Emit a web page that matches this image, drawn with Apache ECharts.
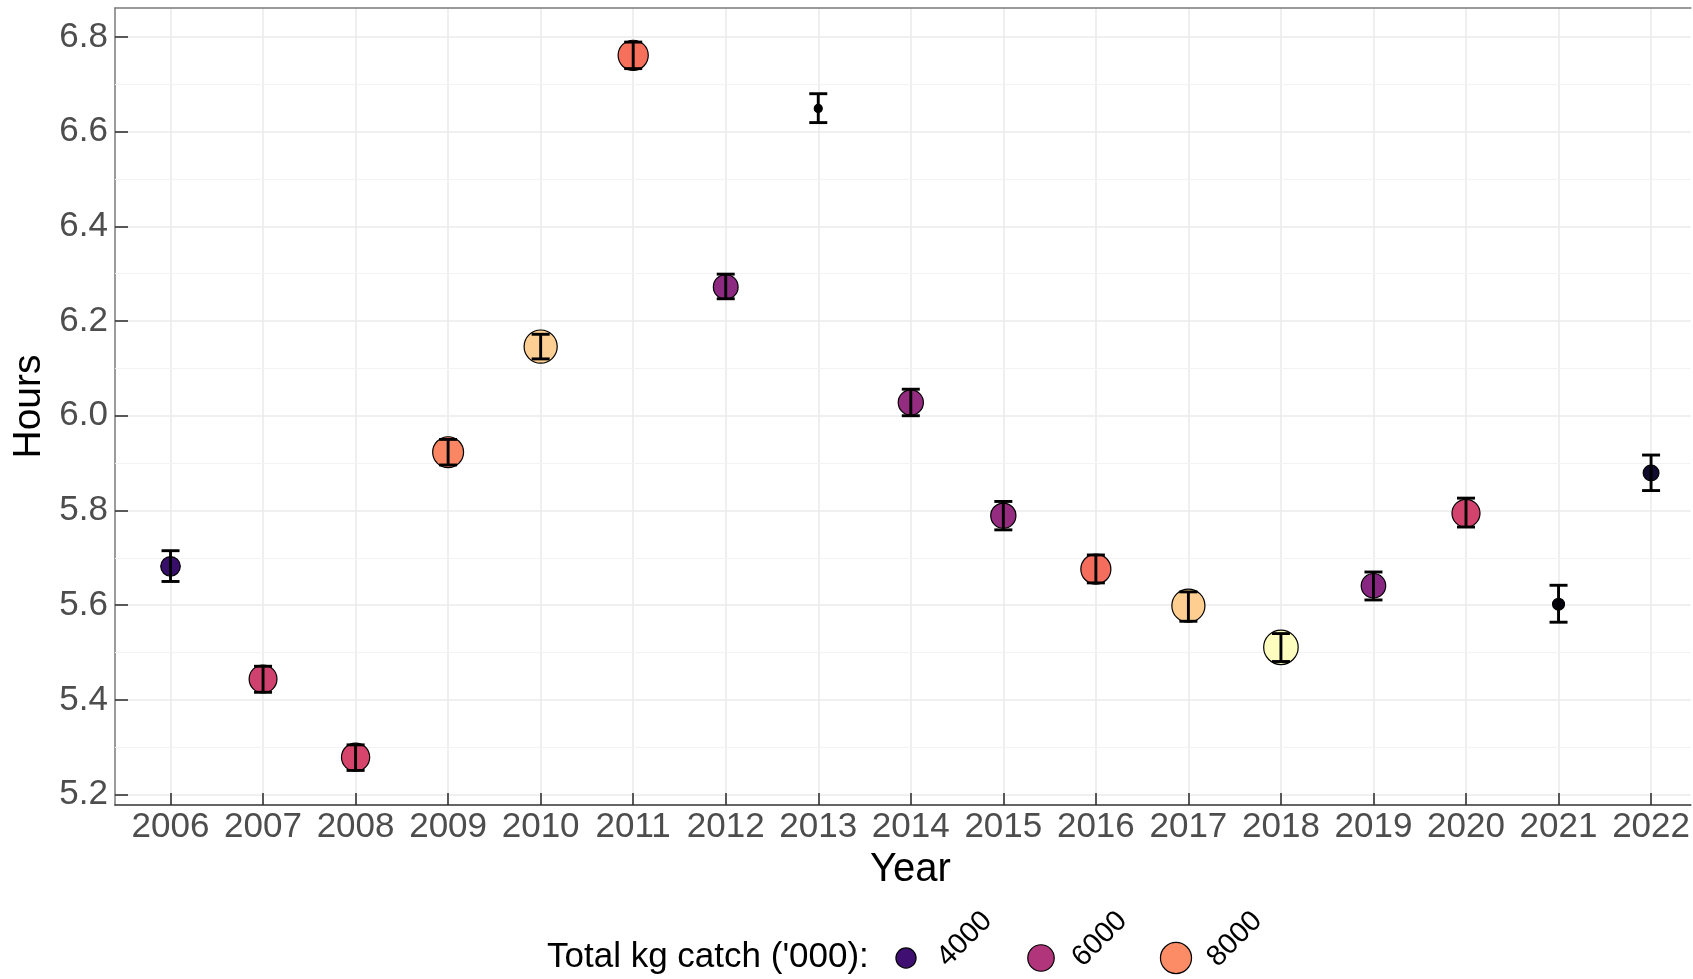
<!DOCTYPE html>
<html>
<head>
<meta charset="utf-8">
<script src="https://cdn.jsdelivr.net/npm/echarts@6/dist/echarts.min.js"></script>
<style>
  html, body { margin: 0; padding: 0; background: #ffffff; }
  #chart { width: 1693px; height: 979px; }
</style>
</head>
<body>
<div id="chart"></div>
<script>
// Mean fishing-trip hours per year, with error bars, coloured and sized by total catch
const years = [2006, 2007, 2008, 2009, 2010, 2011, 2012, 2013, 2014, 2015, 2016, 2017, 2018, 2019, 2020, 2021, 2022];
const meanHours  = [5.682, 5.444, 5.279, 5.923, 6.146, 6.761, 6.272, 6.649, 6.028, 5.789, 5.676, 5.599, 5.511, 5.641, 5.794, 5.602, 5.879];
const lowerHours = [5.650, 5.416, 5.251, 5.896, 6.120, 6.733, 6.247, 6.619, 6.000, 5.759, 5.647, 5.566, 5.481, 5.611, 5.765, 5.564, 5.842];
const upperHours = [5.715, 5.471, 5.305, 5.950, 6.172, 6.789, 6.299, 6.680, 6.056, 5.819, 5.706, 5.628, 5.540, 5.670, 5.826, 5.642, 5.917];
// Total kg catch ('000)
const catchKg = [3850, 6550, 6690, 7900, 9020, 7560, 5380, 2470, 5520, 5530, 7500, 9000, 9745, 5300, 6620, 2630, 3100];

const yTicks = [5.2, 5.4, 5.6, 5.8, 6.0, 6.2, 6.4, 6.6, 6.8];
const yMinorTicks = [5.3, 5.5, 5.7, 5.9, 6.1, 6.3, 6.5, 6.7];
const legendCatch = [4000, 6000, 8000];
const legendTitle = "Total kg catch ('000):";

const FONT = '"Liberation Sans", Arial, sans-serif';

// magma palette stops
const MAGMA = ['#000004', '#140e36', '#3b0f70', '#641a80', '#8c2981', '#b73779',
               '#de4968', '#f7705c', '#fe9f6d', '#fecf92', '#fcfdbf'];
const catchMin = Math.min.apply(null, catchKg);
const catchMax = Math.max.apply(null, catchKg);

function unitCatch(v) {
  return Math.max(0, Math.min(1, (v - catchMin) / (catchMax - catchMin)));
}
function hexToRgb(h) {
  return [parseInt(h.slice(1, 3), 16), parseInt(h.slice(3, 5), 16), parseInt(h.slice(5, 7), 16)];
}
function magma(t) {
  const p = t * (MAGMA.length - 1);
  const i = Math.min(MAGMA.length - 2, Math.floor(p));
  const f = p - i;
  const a = hexToRgb(MAGMA[i]), b = hexToRgb(MAGMA[i + 1]);
  const c = a.map((x, k) => Math.round(x + (b[k] - x) * f));
  return 'rgb(' + c.join(',') + ')';
}
function catchColor(v) { return magma(unitCatch(v)); }
// point area grows with catch
function catchDiameter(v) { return 8 + 26.5 * Math.sqrt(unitCatch(v)); }

const chart = echarts.init(document.getElementById('chart'), null, { renderer: 'canvas' });

const pointData = years.map((y, i) => [y, meanHours[i], catchKg[i]]);
const barData = years.map((y, i) => [y, lowerHours[i], upperHours[i]]);

// legend drawn as graphic elements, using the same colour and size mapping
const legendX = [906, 1041, 1176];
const legendY = 958;
const legendGraphics = [{
  type: 'text', left: 547, top: 940,
  style: { text: legendTitle, font: '35px ' + FONT, fill: '#000000' }
}];
legendCatch.forEach((v, i) => {
  legendGraphics.push({
    type: 'circle', x: legendX[i], y: legendY,
    shape: { cx: 0, cy: 0, r: catchDiameter(v) / 2 },
    style: { fill: catchColor(v), stroke: '#000000', lineWidth: 1.2 }
  });
  legendGraphics.push({
    type: 'text', x: legendX[i] + 36, y: legendY + 4, rotation: Math.PI / 4,
    style: { text: String(v), font: '29px ' + FONT, fill: '#000000', align: 'left', verticalAlign: 'middle' }
  });
});

const axisGrey = '#7a7a7a';
const tickDark = '#333333';

const option = {
  animation: false,
  backgroundColor: '#ffffff',
  grid: { left: 115, top: 8, right: 0, bottom: 174, show: false },
  xAxis: [{
    type: 'value', min: 2005.4, max: 2022.43, position: 'bottom',
    name: 'Year', nameLocation: 'middle', nameGap: 33,
    nameTextStyle: { fontSize: 40, color: '#000000', fontFamily: FONT, padding: [0, 0, 0, 15] },
    axisLine: { show: true, onZero: false, lineStyle: { color: tickDark, width: 1.5 } },
    axisTick: { show: true, inside: true, length: 12, customValues: years, lineStyle: { color: tickDark, width: 1.6 } },
    axisLabel: { customValues: years, fontSize: 35, color: '#4d4d4d', fontFamily: FONT, margin: 5,
                 formatter: v => String(Math.round(v)) },
    splitLine: { show: true, lineStyle: { color: '#ebebeb', width: 1.6 } }
  }, {
    // top edge of the panel frame
    type: 'value', min: 2005.4, max: 2022.43, position: 'top',
    axisLine: { show: true, onZero: false, lineStyle: { color: axisGrey, width: 1.5 } },
    axisTick: { show: false }, axisLabel: { show: false }, splitLine: { show: false }
  }],
  yAxis: {
    type: 'value', min: 5.178, max: 6.861,
    name: 'Hours', nameLocation: 'middle', nameGap: 62, nameRotate: 90,
    nameTextStyle: { fontSize: 39, color: '#000000', fontFamily: FONT },
    axisLine: { show: true, lineStyle: { color: axisGrey, width: 1.5 } },
    axisTick: { show: true, inside: true, length: 13, customValues: yTicks, lineStyle: { color: tickDark, width: 1.6 } },
    axisLabel: { customValues: yTicks, fontSize: 35, color: '#4d4d4d', fontFamily: FONT, margin: 7,
                 formatter: v => v.toFixed(1) },
    splitLine: { show: true, lineStyle: { color: '#ebebeb', width: 1.6 } }
  },
  series: [
    {
      type: 'scatter',
      data: pointData,
      z: 3,
      symbol: 'circle',
      symbolSize: d => catchDiameter(d[2]),
      itemStyle: {
        color: p => catchColor(p.data[2]),
        borderColor: '#000000', borderWidth: 1.2, opacity: 1
      },
      markLine: {
        silent: true, symbol: 'none', z: 1,
        label: { show: false },
        lineStyle: { color: '#f3f3f3', width: 1, type: 'solid' },
        emphasis: { disabled: true },
        data: yMinorTicks.map(v => ({ yAxis: v }))
      }
    },
    {
      type: 'custom',
      data: barData,
      z: 4,
      encode: { x: 0, y: [1, 2] },
      renderItem: function (params, api) {
        const x = api.value(0);
        const lo = api.coord([x, api.value(1)]);
        const hi = api.coord([x, api.value(2)]);
        const half = 9;
        const style = { stroke: '#000000', lineWidth: 2.9, fill: null };
        return {
          type: 'group',
          children: [
            { type: 'line', shape: { x1: lo[0], y1: lo[1], x2: hi[0], y2: hi[1] }, style: style },
            { type: 'line', shape: { x1: lo[0] - half, y1: lo[1], x2: lo[0] + half, y2: lo[1] }, style: style },
            { type: 'line', shape: { x1: hi[0] - half, y1: hi[1], x2: hi[0] + half, y2: hi[1] }, style: style }
          ]
        };
      }
    }
  ],
  graphic: legendGraphics
};

chart.setOption(option);
</script>
</body>
</html>
